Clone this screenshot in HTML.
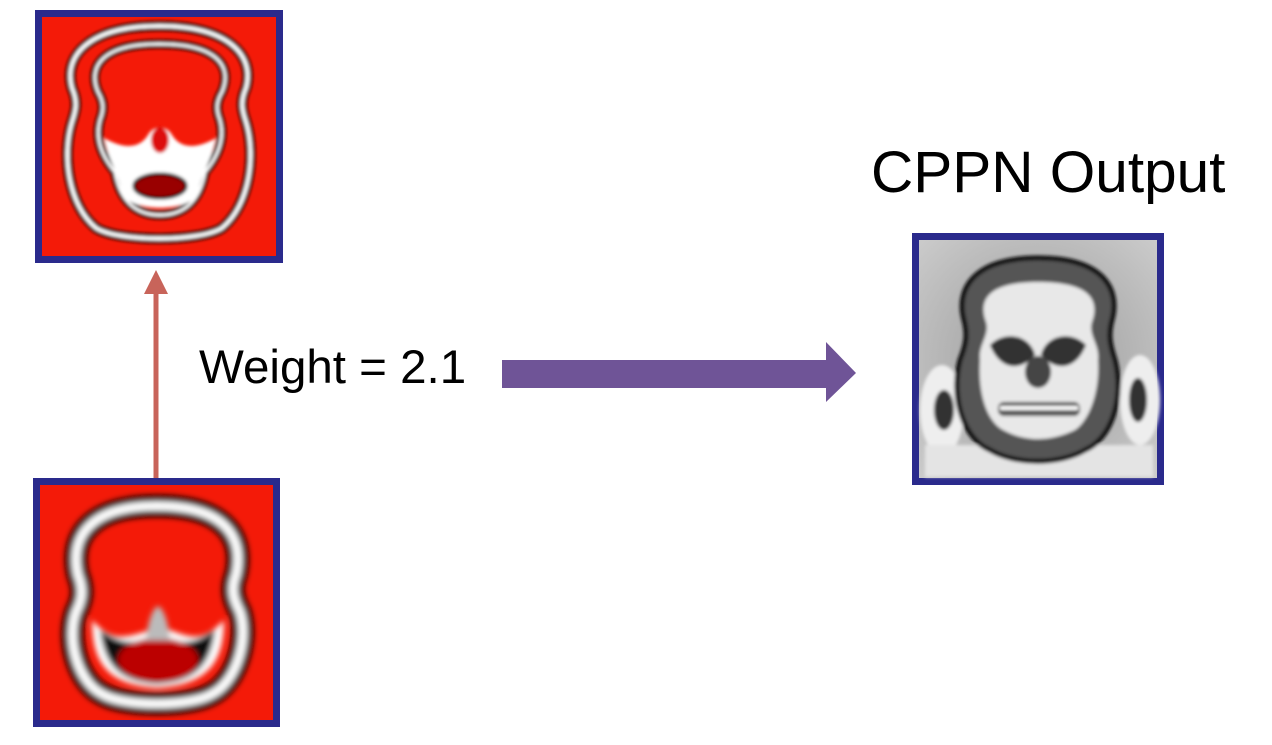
<!DOCTYPE html>
<html><head><style>
html,body{margin:0;padding:0;background:#fff;}
body{width:1272px;height:745px;position:relative;overflow:hidden;font-family:"Liberation Sans",Arial,sans-serif;}
.t{position:absolute;color:#000;white-space:nowrap;}
</style></head><body>
<svg width="1272" height="745" style="position:absolute;left:0;top:0">
<defs>
<radialGradient id="gray" cx="50%" cy="50%" r="70%">
<stop offset="0" stop-color="#999"/><stop offset="1" stop-color="#ccc"/>
</radialGradient>
<filter id="bl"><feGaussianBlur stdDeviation="1.5"/></filter>
<filter id="bl2"><feGaussianBlur stdDeviation="3"/></filter>
</defs>

<!-- Top-left box -->
<rect x="38.5" y="13.5" width="241" height="246" fill="#f41a08" stroke="#2a2a8c" stroke-width="7"/>
<g filter="url(#bl)">
<path d="M159,26 C228,26 255,55 246,88 C240,102 242,110 246,122 C256,155 250,205 222,228 C200,242 118,242 96,228 C68,205 62,155 72,122 C76,110 78,102 72,88 C63,55 90,26 159,26 Z" fill="none" stroke="#000" stroke-width="10"/>
<path d="M159,26 C228,26 255,55 246,88 C240,102 242,110 246,122 C256,155 250,205 222,228 C200,242 118,242 96,228 C68,205 62,155 72,122 C76,110 78,102 72,88 C63,55 90,26 159,26 Z" fill="none" stroke="#fff" stroke-width="4"/>
<path d="M159,44 C220,44 232,68 222,92 C216,102 216,110 220,120 C226,142 215,160 205,172 C200,200 185,215 160,215 C135,215 120,200 115,172 C105,160 94,142 100,120 C104,110 104,102 98,92 C88,68 100,44 159,44 Z" fill="none" stroke="#000" stroke-width="9"/>
<path d="M159,44 C220,44 232,68 222,92 C216,102 216,110 220,120 C226,142 215,160 205,172 C200,200 185,215 160,215 C135,215 120,200 115,172 C105,160 94,142 100,120 C104,110 104,102 98,92 C88,68 100,44 159,44 Z" fill="none" stroke="#fff" stroke-width="3"/>
<path d="M104,138 C125,150 140,148 148,135 C153,125 167,125 172,135 C180,148 195,150 216,138 C212,160 200,175 198,195 C185,212 135,212 122,195 C120,175 108,160 104,138 Z" fill="#fff"/>
<ellipse cx="160" cy="140" rx="9" ry="13" fill="#d11"/>
<ellipse cx="160" cy="186" rx="26" ry="12" fill="#900" stroke="#000" stroke-width="3"/>
</g>

<!-- Red arrow -->
<line x1="156" y1="478" x2="156" y2="278" stroke="#c8645a" stroke-width="5"/>
<polygon points="144,294 156,270 168,294" fill="#c8645a"/>

<!-- Bottom-left box -->
<rect x="36.5" y="481.5" width="240" height="242" fill="#f41a08" stroke="#2a2a8c" stroke-width="7"/>
<g filter="url(#bl2)">
<path d="M157,506 C228,506 244,540 236,575 C230,590 234,600 240,612 C249,640 236,682 212,694 C190,707 124,707 102,694 C78,682 66,640 76,612 C82,600 84,590 78,575 C70,540 86,506 157,506 Z" fill="none" stroke="#000" stroke-width="22"/>
<path d="M157,506 C228,506 244,540 236,575 C230,590 234,600 240,612 C249,640 236,682 212,694 C190,707 124,707 102,694 C78,682 66,640 76,612 C82,600 84,590 78,575 C70,540 86,506 157,506 Z" fill="none" stroke="#fff" stroke-width="9"/>
<path d="M92,620 C110,640 120,640 150,630 L170,630 C195,640 205,640 224,620 C224,660 210,685 157,688 C105,685 92,660 92,620 Z" fill="#fff"/>
<path d="M100,630 C130,650 140,640 157,635 C175,640 185,650 215,630 C210,670 190,682 157,684 C125,682 105,670 100,630 Z" fill="#111"/>
<ellipse cx="158" cy="660" rx="40" ry="22" fill="#b00"/>
<path d="M146,640 C148,620 153,608 158,606 C163,608 168,620 170,640 Z" fill="#bbb"/>
</g>

<!-- Purple arrow -->
<polygon points="502,360 826,360 826,342 856,373 826,402 826,388 502,388" fill="#6f5497"/>

<!-- Right box -->
<rect x="915.5" y="236.5" width="245" height="245" fill="url(#gray)" stroke="#2a2a8c" stroke-width="7"/>
<g filter="url(#bl)">
<ellipse cx="942" cy="410" rx="22" ry="45" fill="#eee"/>
<ellipse cx="944" cy="410" rx="10" ry="20" fill="#333"/>
<ellipse cx="1140" cy="400" rx="20" ry="45" fill="#eee"/>
<ellipse cx="1138" cy="400" rx="9" ry="22" fill="#333"/>
<rect x="925" y="445" width="228" height="32" fill="#e4e4e4"/>
<path d="M1038,258 C1105,258 1120,290 1112,320 C1108,335 1110,345 1115,360 C1125,400 1110,440 1085,450 C1060,465 1015,465 990,450 C965,440 950,400 960,360 C966,345 968,335 964,320 C956,290 972,258 1038,258 Z" fill="#555" stroke="#111" stroke-width="5"/>
<path d="M1038,282 C1090,282 1100,300 1092,322 C1088,335 1100,345 1098,360 C1100,390 1090,420 1075,430 C1050,442 1025,442 1003,430 C985,420 978,390 980,360 C978,345 990,335 986,322 C978,300 988,282 1038,282 Z" fill="#e8e8e8"/>
<path d="M990,345 C1005,330 1030,335 1035,355 C1020,372 1000,370 990,345 Z" fill="#333"/>
<path d="M1086,345 C1071,330 1046,335 1041,355 C1056,372 1076,370 1086,345 Z" fill="#333"/>
<ellipse cx="1038" cy="372" rx="13" ry="16" fill="#444"/>
<rect x="998" y="402" width="82" height="14" rx="6" fill="#555"/>
<rect x="1000" y="406" width="78" height="4" fill="#fff"/>
</g>
</svg>

<div class="t" style="left:199px;top:340px;font-size:47.5px;">Weight = 2.1</div>
<div class="t" style="left:871px;top:139px;font-size:58.5px;">CPPN Output</div>
</body></html>
